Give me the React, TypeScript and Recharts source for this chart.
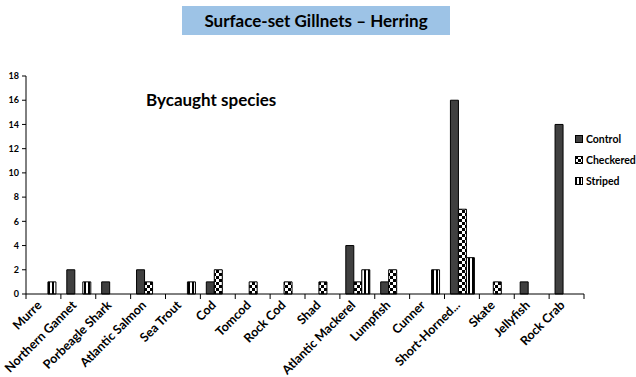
import { BarChart, Bar, XAxis, YAxis } from "recharts";

const species = [
  "Murre",
  "Northern Gannet",
  "Porbeagle Shark",
  "Atlantic Salmon",
  "Sea Trout",
  "Cod",
  "Tomcod",
  "Rock Cod",
  "Shad",
  "Atlantic Mackerel",
  "Lumpfish",
  "Cunner",
  "Short-Horned...",
  "Skate",
  "Jellyfish",
  "Rock Crab",
];
const control = [0, 2, 1, 2, 0, 1, 0, 0, 0, 4, 1, 0, 16, 0, 1, 14];
const checkered = [0, 0, 0, 1, 0, 2, 1, 1, 1, 1, 2, 0, 7, 1, 0, 0];
const striped = [1, 1, 0, 0, 1, 0, 0, 0, 0, 2, 0, 2, 3, 0, 0, 0];
const yTicks = [0, 2, 4, 6, 8, 10, 12, 14, 16, 18];

// Excel leaves empty slots for zero counts
const nz = (v: number) => (v === 0 ? null : v);
const data = species.map((name, i) => ({
  name,
  control: nz(control[i]),
  checkered: nz(checkered[i]),
  striped: nz(striped[i]),
}));

const W = 636;
const H = 377;
const margin = { top: 76, right: 52, left: 0, bottom: 0 };
const yAxisW = 26;
const xAxisH = 83;
const plotW = W - margin.left - margin.right - yAxisW;
const step = plotW / species.length;
const font = "Lato, 'Open Sans', sans-serif";

function XTick(props: any) {
  const { x, y, payload, index } = props;
  const left = x - step / 2;
  const lx = x - 1;
  const ly = y + 12;
  return (
    <g>
      <line x1={left} x2={left} y1={y} y2={y + 5} stroke="#000" strokeWidth={1} />
      {index === species.length - 1 && (
        <line x1={x + step / 2} x2={x + step / 2} y1={y} y2={y + 5} stroke="#000" />
      )}
      <text
        x={lx}
        y={ly}
        textAnchor="end"
        transform={`rotate(-45 ${lx} ${ly})`}
        fontSize={12.5}
        fontWeight={700}
        fontFamily={font}
        fill="#000"
      >
        {payload.value}
      </text>
    </g>
  );
}

const legendItems = [
  { label: "Control", fill: "#404040" },
  { label: "Checkered", fill: "url(#checker)" },
  { label: "Striped", fill: "url(#stripe)" },
];

export default function App() {
  return (
    <div style={{ position: "absolute", left: 0, top: 0, width: W, height: H, background: "#fff", fontFamily: font }}>
      <div
        style={{
          position: "absolute",
          left: 182,
          top: 6,
          width: 268,
          height: 29,
          background: "#9dc3e6",
          display: "flex",
          alignItems: "center",
          justifyContent: "center",
          fontSize: 17,
          fontWeight: 700,
          color: "#000",
        }}
      >
        Surface-set Gillnets – Herring
      </div>
      <div style={{ position: "absolute", left: 146, top: 89, fontSize: 17, fontWeight: 700, color: "#000" }}>
        Bycaught species
      </div>
      <BarChart width={W} height={H} data={data} margin={margin} barGap={0} barCategoryGap="17%">
        <defs>
          <pattern id="checker" width="6" height="6" patternUnits="userSpaceOnUse">
            <rect width="6" height="6" fill="#fff" />
            <rect width="3" height="3" fill="#000" />
            <rect x="3" y="3" width="3" height="3" fill="#000" />
          </pattern>
          <pattern id="stripe" width="4" height="4" patternUnits="userSpaceOnUse">
            <rect width="4" height="4" fill="#fff" />
            <rect width="2" height="4" fill="#000" />
          </pattern>
        </defs>
        <XAxis
          dataKey="name"
          interval={0}
          height={xAxisH}
          tick={<XTick />}
          tickLine={false}
          tickSize={0}
          tickMargin={0}
          axisLine={{ stroke: "#000" }}
        />
        <YAxis
          width={yAxisW}
          domain={[0, 18]}
          ticks={yTicks}
          interval={0}
          tickSize={4}
          tickMargin={3}
          tickLine={{ stroke: "#000" }}
          axisLine={{ stroke: "#000" }}
          tick={{ fontSize: 9, fontWeight: 700, fill: "#000", fontFamily: font }}
        />
        <Bar dataKey="control" fill="#404040" stroke="#000" strokeWidth={1} isAnimationActive={false} />
        <Bar dataKey="checkered" fill="url(#checker)" stroke="#000" strokeWidth={1} isAnimationActive={false} />
        <Bar dataKey="striped" fill="url(#stripe)" stroke="#000" strokeWidth={1} isAnimationActive={false} />
      </BarChart>
      <div style={{ position: "absolute", left: 575, top: 128 }}>
        {legendItems.map((it) => (
          <div key={it.label} style={{ display: "flex", alignItems: "center", height: 21, fontSize: 10.5, fontWeight: 700 }}>
            <svg width={8} height={8} style={{ marginRight: 3 }}>
              <rect x={0.5} y={0.5} width={7} height={7} fill={it.fill} stroke="#000" strokeWidth={1} />
            </svg>
            {it.label}
          </div>
        ))}
      </div>
    </div>
  );
}
